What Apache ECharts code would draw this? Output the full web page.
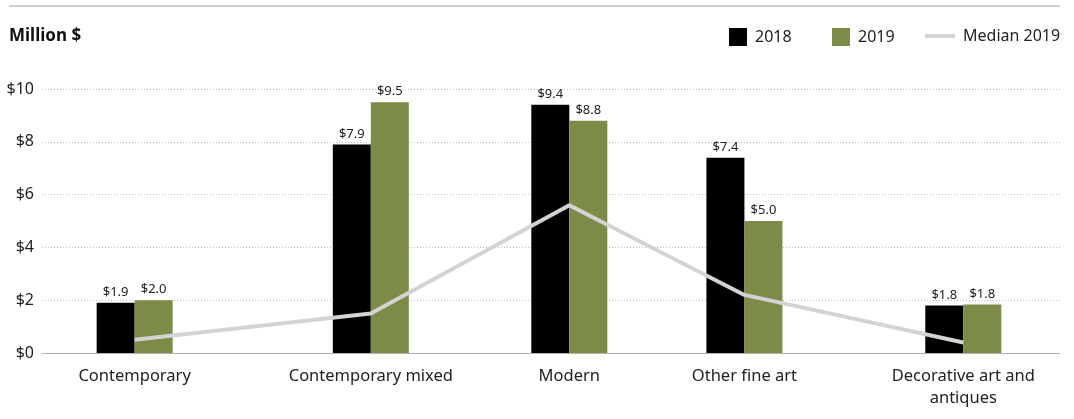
<!DOCTYPE html>
<html>
<head>
<meta charset="utf-8">
<script src="https://cdn.jsdelivr.net/npm/echarts@6/dist/echarts.min.js"></script>
<style>
  html, body { margin: 0; padding: 0; background: #fff; }
  #chart { width: 1074px; height: 419px; }
</style>
</head>
<body>
<div id="chart"></div>
<script>
// categories and values
var categories = ["Contemporary", "Contemporary mixed", "Modern", "Other fine art", "Decorative art and\nantiques"];
var sales2018 = [1.9, 7.9, 9.4, 7.4, 1.8];
var sales2019 = [2.0, 9.5, 8.8, 5.0, 1.84];
var median2019 = [0.5, 1.5, 5.6, 2.2, 0.4];
var yTicks = [0, 2, 4, 6, 8, 10];

// where each category group sits along the x axis (0-100), the original spacing is uneven
var catPos = [9.1, 32.3, 51.8, 69.0, 90.5];

var font = "Noto Sans";
var textColor = "#222";

function pairs(vals) {
  return vals.map(function (v, i) { return [catPos[i], v]; });
}

var myChart = echarts.init(document.getElementById("chart"));

var barLabel = {
  show: true,
  position: "top",
  distance: 4,
  fontFamily: font,
  fontSize: 13,
  color: textColor,
  formatter: function (p) { return "$" + p.value[1].toFixed(1); }
};

var legendText = { fontFamily: font, fontSize: 16, color: textColor, padding: [0, 0, 0, 3] };

var option = {
  animation: false,
  textStyle: { fontFamily: font },
  grid: { left: 42, right: 14, top: 89, bottom: 66, containLabel: false },
  graphic: [
    {
      type: "line",
      shape: { x1: 9, y1: 6, x2: 1060, y2: 6 },
      style: { stroke: "#d0d0d0", lineWidth: 2 }
    },
    {
      type: "text",
      left: 9,
      top: 28,
      style: { text: "Million $", fontFamily: font, fontSize: 17, fontWeight: "bold", fill: "#111" }
    }
  ],
  legend: [
    { data: ["2018"], left: 724, top: 23, icon: "rect", itemWidth: 18, itemHeight: 18, textStyle: legendText },
    { data: ["2019"], left: 827, top: 23, icon: "rect", itemWidth: 18, itemHeight: 18, textStyle: legendText },
    { data: ["Median 2019"], left: 920, top: 23, icon: "rect", itemWidth: 30, itemHeight: 4, textStyle: legendText }
  ],
  xAxis: {
    type: "value",
    min: 0,
    max: 100,
    splitLine: { show: false },
    axisLine: { show: true, lineStyle: { color: "#b0b0b0", width: 1 } },
    axisTick: { show: false },
    axisLabel: {
      customValues: catPos,
      margin: 12,
      fontFamily: font,
      fontSize: 16.5,
      lineHeight: 22,
      color: textColor,
      formatter: function (v) {
        var i = catPos.indexOf(v);
        return i >= 0 ? categories[i] : "";
      }
    }
  },
  yAxis: {
    type: "value",
    min: 0,
    max: 10,
    interval: 2,
    axisLine: { show: false },
    axisTick: { show: false },
    axisLabel: {
      margin: 8,
      fontFamily: font,
      fontSize: 16,
      color: textColor,
      formatter: function (v) { return yTicks.indexOf(v) >= 0 ? "$" + v : ""; }
    },
    splitLine: { lineStyle: { color: "#bcbcbc", type: [1, 2], width: 1 } }
  },
  series: [
    {
      name: "2018",
      type: "bar",
      barWidth: 38,
      barGap: "0%",
      itemStyle: { color: "#000000" },
      label: barLabel,
      data: pairs(sales2018)
    },
    {
      name: "2019",
      type: "bar",
      barWidth: 38,
      barGap: "0%",
      itemStyle: { color: "#7c8b48" },
      label: barLabel,
      data: pairs(sales2019)
    },
    {
      name: "Median 2019",
      type: "line",
      symbol: "none",
      z: 5,
      itemStyle: { color: "#d3d3d3" },
      lineStyle: { color: "#d3d3d3", width: 4 },
      data: pairs(median2019)
    }
  ]
};

myChart.setOption(option);
</script>
</body>
</html>
